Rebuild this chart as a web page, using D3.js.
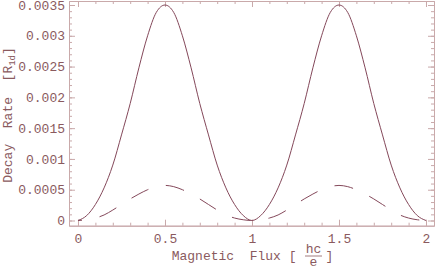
<!DOCTYPE html>
<html><head><meta charset="utf-8">
<script src="https://cdn.jsdelivr.net/npm/d3@7"></script>
<style>
body{margin:0;background:#fff;}
svg{display:block;}
text{font-family:"Liberation Mono","DejaVu Sans Mono","Noto Sans Mono","Courier New",monospace;fill:#8a5a5e;white-space:pre;}
</style></head><body>
<svg id="c" width="436" height="269"></svg>
<script>
const xs = [0,0.05,0.1,0.15,0.2,0.25,0.3,0.35,0.4,0.45,0.5,0.55,0.6,0.65,0.7,0.75,0.8,0.85,0.9,0.95,1,
            1.05,1.1,1.15,1.2,1.25,1.3,1.35,1.4,1.45,1.5,1.55,1.6,1.65,1.7,1.75,1.8,1.85,1.9,1.95,2];
const solidRate = [0,0.00008,0.00026,0.00053,0.0009,0.00139,0.0019,0.00248,0.003,0.00338,0.0035,
                   0.00338,0.003,0.00248,0.0019,0.00139,0.0009,0.00053,0.00026,0.00008,0,
                   0.00008,0.00026,0.00053,0.0009,0.00139,0.0019,0.00248,0.003,0.00338,0.0035,
                   0.00338,0.003,0.00248,0.0019,0.00139,0.0009,0.00053,0.00026,0.00008,0];
const dashedRate = [0,0.000012,0.00004,0.00009,0.00017,0.00026,0.00035,0.00043,0.0005,0.00055,0.00057,
                    0.00055,0.0005,0.00043,0.00035,0.00026,0.00017,0.00009,0.00004,0.000012,0,
                    0.000012,0.00004,0.00009,0.00017,0.00026,0.00035,0.00043,0.0005,0.00055,0.00057,
                    0.00055,0.0005,0.00043,0.00035,0.00026,0.00017,0.00009,0.00004,0.000012,0];
const xTicks = [0,0.5,1,1.5,2];
const xTickLabels = ["0","0.5","1","1.5","2"];
const yTicks = [0,0.0005,0.001,0.0015,0.002,0.0025,0.003,0.0035];
const yTickLabels = ["0","0.0005","0.001","0.0015","0.002","0.0025","0.003","0.0035"];
const xMinor = d3.range(0,21).map(i=>i/10);
const yMinor = d3.range(0,36).map(i=>i/10000);

const FONT = "'Liberation Mono','DejaVu Sans Mono','Noto Sans Mono','Courier New',monospace";
const svg = d3.select("#c");
const L=69, R=434, T=1, B=225.7;
const x = d3.scaleLinear().domain([-0.0517,2.046]).range([L,R]);
const y = d3.scaleLinear().domain([-0.0000844,0.003565]).range([B,T]);

const frameCol = "#c9a9aa";
function style(g){
  g.attr("font-family",null).attr("font-size",null);
  g.select(".domain").attr("stroke",frameCol).attr("stroke-width",1);
  g.selectAll(".tick line").attr("stroke",frameCol);
  g.selectAll("text").attr("fill","#8a5a5e").style("font-size","13px").style("font-family",FONT);
}
// minor ticks
svg.append("g").attr("transform",`translate(0,${B})`).call(d3.axisBottom(x).tickValues(xMinor).tickSizeInner(-3).tickSizeOuter(0).tickFormat("")).call(style);
svg.append("g").attr("transform",`translate(0,${T})`).call(d3.axisTop(x).tickValues(xMinor).tickSizeInner(-3).tickSizeOuter(0).tickFormat("")).call(style);
svg.append("g").attr("transform",`translate(${L},0)`).call(d3.axisLeft(y).tickValues(yMinor).tickSizeInner(-3).tickSizeOuter(0).tickFormat("")).call(style);
svg.append("g").attr("transform",`translate(${R},0)`).call(d3.axisRight(y).tickValues(yMinor).tickSizeInner(-3).tickSizeOuter(0).tickFormat("")).call(style);
// major ticks
svg.append("g").attr("transform",`translate(0,${B})`).call(d3.axisBottom(x).tickValues(xTicks).tickSizeInner(-6).tickSizeOuter(0).tickPadding(8).tickFormat((d,i)=>xTickLabels[i])).call(style);
svg.append("g").attr("transform",`translate(0,${T})`).call(d3.axisTop(x).tickValues(xTicks).tickSizeInner(-6).tickSizeOuter(0).tickFormat("")).call(style);
svg.append("g").attr("transform",`translate(${L},0)`).call(d3.axisLeft(y).tickValues(yTicks).tickSizeInner(-6).tickSizeOuter(0).tickPadding(4).tickFormat((d,i)=>yTickLabels[i])).call(style);
svg.append("g").attr("transform",`translate(${R},0)`).call(d3.axisRight(y).tickValues(yTicks).tickSizeInner(-6).tickSizeOuter(0).tickFormat("")).call(style);

const pts1 = xs.map((v,i)=>[v,solidRate[i]]);
const pts2 = xs.map((v,i)=>[v,dashedRate[i]]);
const line = d3.line().x(d=>x(d[0])).y(d=>y(d[1])).curve(d3.curveMonotoneX);
const curveCol = "#84485a";
svg.append("path").attr("d",line(pts1)).attr("fill","none").attr("stroke",curveCol).attr("stroke-width",1);
svg.append("path").attr("d",line(pts2)).attr("fill","none").attr("stroke",curveCol).attr("stroke-width",1)
  .attr("stroke-dasharray","19,18").attr("stroke-dashoffset",15);

// y label
const yl = svg.append("text").attr("transform","translate(12,115) rotate(-90)").attr("text-anchor","middle").style("font-size","13px");
yl.append("tspan").text("Decay  Rate  [R");
yl.append("tspan").style("font-size","9px").attr("dy",3).text("1d");
yl.append("tspan").attr("dy",-3).text("]");

// x label
svg.append("text").attr("x",171.7).attr("y",260).style("font-size","13px").text("Magnetic  Flux [");
svg.append("text").attr("x",313.5).attr("y",252.5).attr("text-anchor","middle").style("font-size","13px").text("hc");
svg.append("line").attr("x1",305).attr("x2",322).attr("y1",256).attr("y2",256).attr("stroke","#8a5a5e").attr("stroke-width",0.8);
svg.append("text").attr("x",313.5).attr("y",265.5).attr("text-anchor","middle").style("font-size","13px").text("e");
svg.append("text").attr("x",325.5).attr("y",260).style("font-size","13px").text("]");
</script></body></html>
